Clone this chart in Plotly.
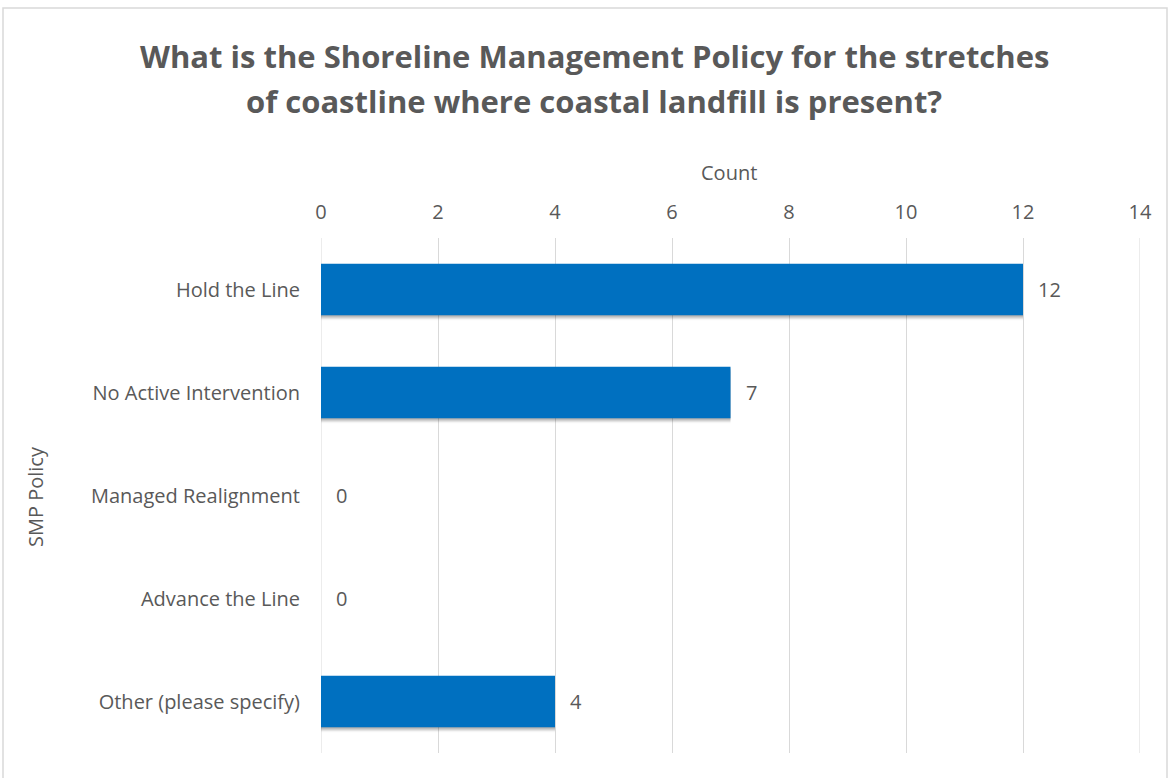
import plotly.graph_objects as go

# Survey responses: SMP policy for coastline stretches with coastal landfill
policies = [
    "Hold the Line",
    "No Active Intervention",
    "Managed Realignment",
    "Advance the Line",
    "Other (please specify)",
]
counts = [12, 7, 0, 0, 4]
x_ticks = [0, 2, 4, 6, 8, 10, 12, 14]

title_lines = [
    "What is the Shoreline Management Policy for the stretches",
    "of coastline where coastal landfill is present?",
]

W, H = 1170, 778
ML, MR, MT, MB = 321, 30, 238, 25
FONT = "Open Sans"
GREY = "#595959"
GRID = "#D9D9D9"
BAR = "#0070C0"
LABEL_SIZE = 20

pw = W - ML - MR
ph = H - MT - MB


def px_x(x):
    return (x - ML) / pw


def px_y(y):
    return (H - MB - y) / ph


fig = go.Figure()

# soft drop shadow under each bar (a few translucent layers)
for dy, a in [(0.012, 0.13), (0.024, 0.11), (0.036, 0.07), (0.048, 0.04)]:
    fig.add_trace(go.Bar(
        y=policies, x=counts, orientation="h",
        width=0.5, offset=-0.25 + dy,
        marker=dict(color=f"rgba(0,0,0,{a})", line=dict(width=0)),
        hoverinfo="skip",
    ))

fig.add_trace(go.Bar(
    y=policies,
    x=counts,
    orientation="h",
    width=0.5, offset=-0.25,
    marker=dict(color=BAR, line=dict(width=0)),
    hoverinfo="x+y",
))

# value labels just past the end of each bar
for p, c in zip(policies, counts):
    fig.add_annotation(
        x=c, y=p, xref="x", yref="y", text=str(c), showarrow=False,
        xanchor="left", xshift=13,
        font=dict(family=FONT, size=LABEL_SIZE, color=GREY),
    )

# gridlines at both ends of the value axis
for v in (x_ticks[0], x_ticks[-1]):
    fig.add_shape(
        type="line", xref="x", yref="paper", x0=v, x1=v, y0=0, y1=1,
        line=dict(color=GRID, width=1), layer="below",
    )

# chart title, two centred lines
for line, yc in zip(title_lines, [56, 101]):
    fig.add_annotation(
        x=px_x(594), y=px_y(yc), xref="paper", yref="paper",
        text=f"<b>{line}</b>", showarrow=False,
        xanchor="center", yanchor="middle",
        font=dict(family=FONT, size=31, color=GREY),
    )

# axis titles
fig.add_annotation(
    x=px_x(729), y=px_y(172), xref="paper", yref="paper",
    text="Count", showarrow=False,
    xanchor="center", yanchor="middle",
    font=dict(family=FONT, size=LABEL_SIZE, color=GREY),
)
fig.add_annotation(
    x=px_x(35), y=px_y(497), xref="paper", yref="paper",
    text="SMP Policy", showarrow=False, textangle=-90,
    xanchor="center", yanchor="middle",
    font=dict(family=FONT, size=LABEL_SIZE, color=GREY),
)

# outer chart frame
fig.add_shape(
    type="rect", xref="paper", yref="paper",
    x0=px_x(3), x1=px_x(1167),
    y0=px_y(800), y1=px_y(8),
    line=dict(color=GRID, width=1.5), fillcolor="rgba(0,0,0,0)", layer="below",
)

fig.update_layout(
    width=W, height=H,
    margin=dict(l=ML, r=MR, t=MT, b=MB),
    paper_bgcolor="white",
    plot_bgcolor="white",
    showlegend=False,
    barmode="overlay",
    xaxis=dict(
        side="top",
        range=[0, 14],
        tickvals=x_ticks,
        showgrid=True, gridcolor=GRID, gridwidth=1,
        zeroline=False, showline=False,
        ticks="", ticklabelstandoff=14,
        tickfont=dict(family=FONT, size=LABEL_SIZE, color=GREY),
        fixedrange=True,
    ),
    yaxis=dict(
        autorange="reversed",
        showgrid=False, zeroline=False, showline=False,
        ticks="", ticklabelstandoff=20,
        tickfont=dict(family=FONT, size=LABEL_SIZE, color=GREY),
        fixedrange=True,
    ),
)

fig.write_html("out.html")
